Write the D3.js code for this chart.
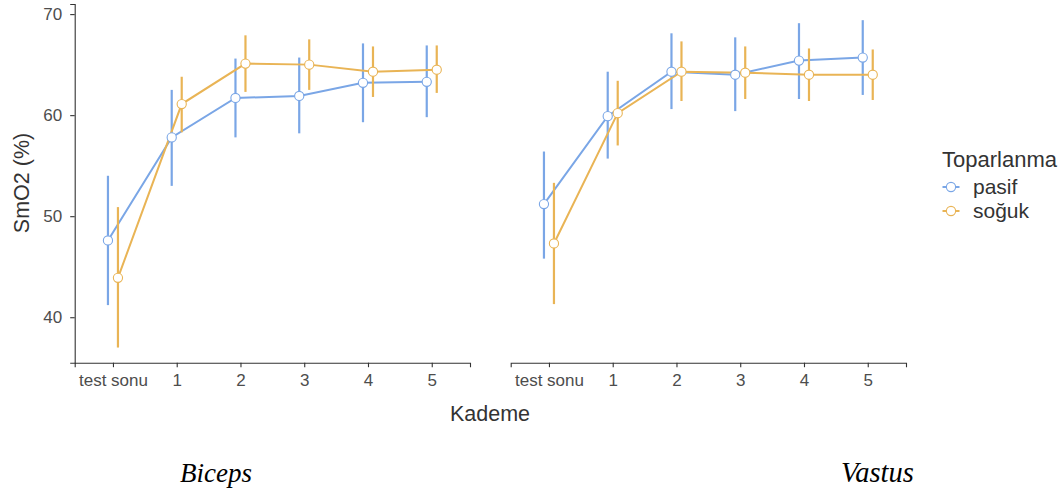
<!DOCTYPE html>
<html>
<head>
<meta charset="utf-8">
<script src="https://cdn.jsdelivr.net/npm/d3@7"></script>
<style>
  html, body { margin: 0; padding: 0; background: #fff; }
  svg { display: block; }
  text { font-family: "Liberation Sans", Arial, sans-serif; }
</style>
</head>
<body>
<svg id="chart" width="1063" height="492"></svg>
<script>
// ---------- data ----------
const categories = ["test sonu", "1", "2", "3", "4", "5"];
const groups = ["pasif", "soğuk"];
const panels = ["Biceps", "Vastus"];
const yTicks = [40, 50, 60, 70];

// Biceps
const bicepsPasifMean  = [47.6, 57.8, 61.7, 61.9, 63.2, 63.3];
const bicepsPasifLow   = [41.2, 53.0, 57.8, 58.2, 59.3, 59.8];
const bicepsPasifHigh  = [54.0, 62.5, 65.6, 65.7, 67.1, 66.9];
const bicepsSogukMean  = [43.9, 61.1, 65.1, 65.0, 64.3, 64.5];
const bicepsSogukLow   = [37.0, 58.3, 62.3, 62.5, 61.8, 62.2];
const bicepsSogukHigh  = [50.9, 63.8, 67.9, 67.5, 66.8, 66.9];
// Vastus
const vastusPasifMean  = [51.2, 59.9, 64.3, 64.0, 65.4, 65.7];
const vastusPasifLow   = [45.8, 55.7, 60.6, 60.4, 61.6, 62.0];
const vastusPasifHigh  = [56.4, 64.3, 68.1, 67.7, 69.1, 69.4];
const vastusSogukMean  = [47.3, 60.2, 64.3, 64.2, 64.0, 64.0];
const vastusSogukLow   = [41.3, 57.0, 61.4, 61.6, 61.4, 61.5];
const vastusSogukHigh  = [53.3, 63.4, 67.3, 66.8, 66.6, 66.5];

const colors = { "pasif": "#7aa6e6", "soğuk": "#e9b455" };

function build(mean, low, high) {
  return categories.map((c, i) => ({ cat: c, mean: mean[i], low: low[i], high: high[i] }));
}
const panelData = [
  { name: "Biceps", series: [
      { group: "pasif", values: build(bicepsPasifMean, bicepsPasifLow, bicepsPasifHigh) },
      { group: "soğuk", values: build(bicepsSogukMean, bicepsSogukLow, bicepsSogukHigh) } ] },
  { name: "Vastus", series: [
      { group: "pasif", values: build(vastusPasifMean, vastusPasifLow, vastusPasifHigh) },
      { group: "soğuk", values: build(vastusSogukMean, vastusSogukLow, vastusSogukHigh) } ] }
];

// ---------- layout ----------
const svg = d3.select("#chart");
const plotTop = 4, plotBottom = 362.7;
const panelX = [[74.7, 470], [510.7, 906]];
const y = d3.scaleLinear().domain([35.5, 71]).range([plotBottom, plotTop]);
const dodge = d3.scalePoint().domain(groups).range([-5, 5]);
const axisColor = "#333333";
const tickTextColor = "#4d4d4d";
const sans = "'Liberation Sans', Arial, sans-serif";

panelData.forEach((p, pi) => {
  const x = d3.scalePoint().domain(categories).range(panelX[pi]).padding(0.6);
  const g = svg.append("g");

  // x axis
  const xa = g.append("g").attr("transform", `translate(0,${plotBottom})`)
    .call(d3.axisBottom(x).tickSizeOuter(0).tickSize(4.5).tickPadding(7));
  xa.select(".domain").attr("stroke", axisColor).attr("stroke-width", 1.1);
  xa.selectAll(".tick line").attr("stroke", axisColor).attr("stroke-width", 1.1);
  xa.selectAll(".tick text").attr("fill", tickTextColor)
    .style("font-size", "17px").style("font-family", sans);

  if (pi === 0) {
    const ya = g.append("g").attr("transform", `translate(${panelX[0][0]},0)`)
      .call(d3.axisLeft(y).tickValues(yTicks).tickSizeOuter(0).tickSize(4.5).tickPadding(8));
    ya.select(".domain").attr("stroke", axisColor).attr("stroke-width", 1.1);
    ya.selectAll(".tick line").attr("stroke", axisColor).attr("stroke-width", 1.1);
    ya.selectAll(".tick text").attr("fill", tickTextColor)
      .style("font-size", "17px").style("font-family", sans);
  }

  p.series.forEach(s => {
    const col = colors[s.group];
    const px = d => x(d.cat) + dodge(s.group);
    // error bars
    g.append("g").selectAll("line").data(s.values).join("line")
      .attr("x1", px).attr("x2", px)
      .attr("y1", d => y(d.low)).attr("y2", d => y(d.high))
      .attr("stroke", col).attr("stroke-width", 2.2);
    // line
    g.append("path").datum(s.values)
      .attr("fill", "none").attr("stroke", col).attr("stroke-width", 2)
      .attr("d", d3.line().x(px).y(d => y(d.mean)));
  });
  p.series.forEach(s => {
    const col = colors[s.group];
    const px = d => x(d.cat) + dodge(s.group);
    g.append("g").selectAll("circle").data(s.values).join("circle")
      .attr("cx", px).attr("cy", d => y(d.mean)).attr("r", 4.6)
      .attr("fill", "#ffffff").attr("stroke", col).attr("stroke-width", 1.1);
  });
});

// axis titles
svg.append("text").attr("x", 490).attr("y", 421).attr("text-anchor", "middle")
  .attr("fill", "#333").style("font-size", "21.5px").text("Kademe");
svg.append("text").attr("transform", "translate(29,183) rotate(-90)").attr("text-anchor", "middle")
  .attr("fill", "#333").style("font-size", "21.5px").text("SmO2 (%)");

// panel labels
const serif = "'Liberation Serif', 'Times New Roman', serif";
svg.append("text").attr("x", 180).attr("y", 482)
  .style("font-family", serif).style("font-style", "italic")
  .style("font-size", "27px").attr("fill", "#000").text(panels[0]);
svg.append("text").attr("x", 841).attr("y", 482)
  .style("font-family", serif).style("font-style", "italic")
  .style("font-size", "28.5px").attr("fill", "#000").text(panels[1]);

// legend
const leg = svg.append("g");
leg.append("text").attr("x", 942).attr("y", 167).attr("fill", "#333")
  .style("font-size", "22px").text("Toparlanma");
const legY = d3.scalePoint().domain(groups).range([187, 211]);
groups.forEach(gname => {
  const yy = legY(gname);
  leg.append("line").attr("x1", 942.5).attr("x2", 959.5).attr("y1", yy).attr("y2", yy)
    .attr("stroke", colors[gname]).attr("stroke-width", 2);
  leg.append("circle").attr("cx", 951).attr("cy", yy).attr("r", 4.6)
    .attr("fill", "#fff").attr("stroke", colors[gname]).attr("stroke-width", 1.1);
  leg.append("text").attr("x", 973).attr("y", yy + 6.5).attr("fill", "#333")
    .style("font-size", "21px").text(gname);
});
</script>
</body>
</html>
